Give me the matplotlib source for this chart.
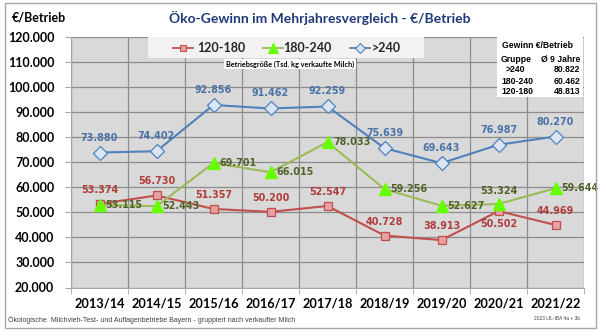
import matplotlib
matplotlib.use("Agg")
import matplotlib.pyplot as plt
from matplotlib.patches import Rectangle
from matplotlib.lines import Line2D

years = ["2013/14", "2014/15", "2015/16", "2016/17", "2017/18", "2018/19", "2019/20", "2020/21", "2021/22"]
s120_180 = [53374, 56730, 51357, 50200, 52547, 40728, 38913, 50502, 44969]
s180_240 = [53115, 52443, 69701, 66015, 78033, 59256, 52627, 53324, 59644]
s240 = [73880, 74402, 92856, 91462, 92259, 75639, 69643, 76987, 80270]
series_names = ["120-180", "180-240", ">240"]
avg_groups = [">240", "180-240", "120-180"]
avg_values = ["80.822", "60.462", "48.813"]

def fmt(v):
    return f"{v:,}".replace(",", ".")

W, H = 600, 332
fig = plt.figure(figsize=(6, 3.32), dpi=100)
fig.patch.set_facecolor("white")
fig.add_artist(Rectangle((5 / W, 1 - 328 / H), 591 / W, 325 / H, transform=fig.transFigure,
                         fill=False, edgecolor="#a6a6a6", lw=1.0))

ax = fig.add_axes([71 / W, 1 - 287.5 / H, 513 / W, 250.5 / H])
ax.set_facecolor("#d9d9d9")
x = list(range(len(years)))

red_line, red_face, red_lab = "#c0504d", "#e6a1a0", "#b03c3a"
grn_line, grn_face, grn_lab = "#9bbb59", "#66ff00", "#4f6228"
blu_line, blu_face, blu_lab = "#4f81bd", "#dce6f2", "#4a72a8"

ax.plot(x, s240, color=blu_line, lw=1.5, marker="D", ms=7.2, mfc=blu_face, mec=blu_line, mew=0.9, zorder=3)
ax.plot(x, s180_240, color=grn_line, lw=1.5, marker="^", ms=8, mfc=grn_face, mec=grn_face, zorder=4)
ax.plot(x, s120_180, color=red_line, lw=1.5, marker="s", ms=5.5, mfc=red_face, mec=red_line, mew=0.9, zorder=3)

lab_font = dict(fontsize=6.9, family="DejaVu Sans", fontweight="bold", zorder=6)
for i, v in enumerate(s240):
    ax.annotate(fmt(v), (i, v), xytext=(0, 15), textcoords="offset pixels",
                ha="center", va="center", color=blu_lab, **lab_font)
for i, v in enumerate(s120_180):
    dy = -13 if i == 7 else 14
    ax.annotate(fmt(v), (i, v), xytext=(0, dy), textcoords="offset pixels",
                ha="center", va="center", color=red_lab, **lab_font)
for i, v in enumerate(s180_240):
    if i == 7:
        ax.annotate(fmt(v), (i, v), xytext=(0, 13), textcoords="offset pixels",
                    ha="center", va="center", color=grn_lab, **lab_font)
    else:
        ax.annotate(fmt(v), (i, v), xytext=(6, 0), textcoords="offset pixels",
                    ha="left", va="center", color=grn_lab, **lab_font)

ax.set_xlim(-0.5, 8.5)
ax.set_ylim(20000, 120000)
ax.set_yticks(range(20000, 120001, 10000))
ax.set_yticklabels([fmt(v) for v in range(20000, 120001, 10000)],
                   fontsize=9, fontweight="bold", family="Lato")
ax.set_xticks(x)
ax.set_xticklabels(years, fontsize=9.2, fontweight="bold", family="Lato")
ax.set_xticks([i - 0.5 for i in range(10)], minor=True)
ax.tick_params(axis="x", which="major", length=0, pad=7)
ax.tick_params(axis="x", which="minor", length=4, color="#a6a6a6")
ax.tick_params(axis="y", length=4, color="#a6a6a6", pad=8)
ax.grid(True, axis="y", color="#8c8c8c", lw=0.9)
ax.grid(True, axis="x", which="minor", color="#8c8c8c", lw=0.9)
ax.set_axisbelow(True)
for s in ["top", "right"]:
    ax.spines[s].set_visible(False)
ax.spines["left"].set_color("#a6a6a6")
ax.spines["bottom"].set_color("#a6a6a6")

# legend (manual placement)
fig.add_artist(Rectangle((148 / W, 1 - 58 / H), 276 / W, 21 / H, transform=fig.transFigure,
                         facecolor="#f2f2f2", edgecolor="none", zorder=9))
leg_items = [
    (183, 197, red_line, "s", 5, red_face, red_line),
    (273, 283, grn_line, "^", 6.5, grn_face, grn_face),
    (360, 372, blu_line, "D", 5, blu_face, blu_line),
]
for (mx, tx, lc, mk, ms, mf, me), name in zip(leg_items, series_names):
    ly = 1 - 48 / H
    fig.add_artist(Line2D([(mx - 10) / W, (mx + 10) / W], [ly, ly], transform=fig.transFigure,
                          color=lc, lw=1.3, zorder=10))
    fig.add_artist(Line2D([mx / W], [ly], transform=fig.transFigure, color=lc, marker=mk, ms=ms,
                          mfc=mf, mec=me, mew=0.8, lw=0, zorder=11))
    fig.text(tx / W, ly, name, ha="left", va="center", fontsize=9, fontweight="bold",
             family="Lato", color="#262626", zorder=11)

fig.text(290 / W, 1 - 64 / H, "Betriebsgröße (Tsd. kg verkaufte Milch)", fontsize=5.2,
         fontweight="bold", ha="center", va="center", family="Lato", zorder=11,
         bbox=dict(facecolor="white", edgecolor="none", pad=1.2))

# average table
fig.add_artist(Rectangle((497 / W, 1 - 97 / H), 86 / W, 60 / H, transform=fig.transFigure,
                         facecolor="white", edgecolor="none", zorder=9))
tf = dict(fontsize=6.2, fontweight="bold", family="Liberation Sans", zorder=12, va="center")
fig.text(538 / W, 1 - 46 / H, "Gewinn €/Betrieb", ha="center", **tf)
fig.text(501 / W, 1 - 59 / H, "Gruppe", ha="left", **tf)
fig.text(580 / W, 1 - 59 / H, "Ø 9 Jahre", ha="right", **tf)
for k, (g, v) in enumerate(zip(avg_groups, avg_values)):
    yy = 1 - (70 + 11 * k) / H
    fig.text((506 if k == 0 else 501) / W, yy, g, ha="left", **tf)
    fig.text(580 / W, yy, v, ha="right", **tf)

# titles
fig.text(320 / W, 1 - 18 / H, "Öko-Gewinn im Mehrjahresvergleich - €/Betrieb", ha="center",
         va="center", fontsize=10, fontweight="bold", color="#1f3a78", family="Lato")
fig.text(12 / W, 1 - 18 / H, "€/Betrieb", ha="left", va="center", fontsize=9,
         fontweight="bold", family="Lato")
fig.text(8 / W, 1 - 320 / H,
         "Ökologische  Milchvieh-Test- und Auflagenbetriebe Bayern - gruppiert nach verkaufter Milch",
         ha="left", va="center", fontsize=5.0, color="#404040", family="Liberation Sans")
fig.text(580 / W, 1 - 319 / H, "2023 LfL-IBA 4a + 3b", ha="right", va="center", fontsize=3.5,
         color="#404040", family="Liberation Sans")

fig.savefig("out.png", dpi=100)
